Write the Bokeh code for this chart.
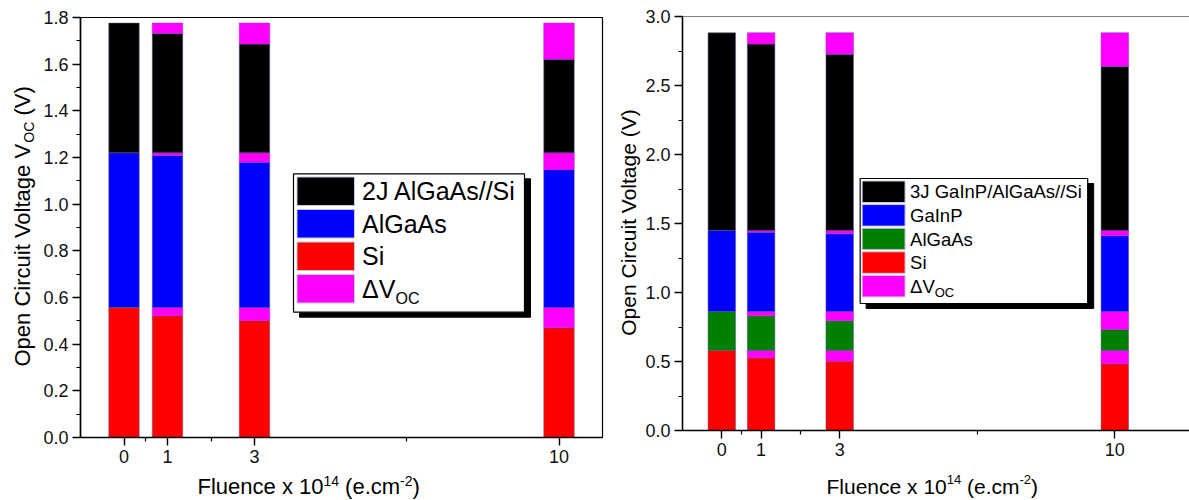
import math
from bokeh.plotting import figure
from bokeh.models import FixedTicker, NumeralTickFormatter, Span, Range1d
from bokeh.core.properties import value
from bokeh.layouts import row, column
from bokeh.embed import file_html
from bokeh.resources import INLINE

FONT = "Liberation Sans"

# ---------------- data ----------------
fluence = [0, 1, 3, 10]
fluence_labels = ["0", "1", "3", "10"]

# 2J AlGaAs//Si  (segment heights, bottom -> top)
si_2j = [0.557, 0.522, 0.501, 0.470]
algaas_2j = [0.663, 0.652, 0.623, 0.591]
tandem_2j = [0.556, 0.511, 0.466, 0.401]

# 3J GaInP/AlGaAs//Si (segment heights, bottom -> top)
si_3j = [0.580, 0.527, 0.502, 0.483]
algaas_3j = [0.282, 0.251, 0.215, 0.152]
gainp_3j = [0.587, 0.575, 0.563, 0.549]
triple_3j = [1.433, 1.351, 1.278, 1.189]

labels_2j = ["2J AlGaAs//Si", "AlGaAs", "Si", "ΔV"]
labels_3j = ["3J GaInP/AlGaAs//Si", "GaInP", "AlGaAs", "Si", "ΔV"]

yticks_2j = [0.0, 0.2, 0.4, 0.6, 0.8, 1.0, 1.2, 1.4, 1.6, 1.8]
yticks_3j = [0.0, 0.5, 1.0, 1.5, 2.0, 2.5, 3.0]

BLACK, BLUE, RED, MAGENTA, GREEN = "#000000", "#0000FF", "#FF0000", "#FF00FF", "#008000"
EDGE = "#55558a"
DEDGE = "#9b30d0"
BAR_W = 0.7
TICK_FONT = "18px"
SHIFT = 0.35   # baseline correction (fraction of font size)


def stack(p, layers, colors):
    """Stacked segments; the remainder of each layer's slot (vs fluence 0) is ΔVoc."""
    base = 0.0
    for vals, col in zip(layers, colors):
        slot = vals[0]
        tops = [base + v for v in vals]
        p.vbar(x=fluence, bottom=base, top=tops, width=BAR_W,
               fill_color=col, line_color=EDGE, line_width=0.7, line_alpha=0.7)
        idx = [i for i, v in enumerate(vals) if slot - v > 1e-9]
        p.vbar(x=[fluence[i] for i in idx], bottom=[tops[i] for i in idx],
               top=[base + slot] * len(idx), width=BAR_W,
               fill_color=MAGENTA, line_color=DEDGE, line_width=0.7, line_alpha=0.8)
        base += slot


def style_axes(p, yticks):
    xa, ya = p.xaxis[0], p.yaxis[0]
    minors = [(fluence[i] + fluence[i + 1]) / 2 for i in range(len(fluence) - 1)]
    xa.ticker = FixedTicker(ticks=fluence, minor_ticks=minors)
    xa.major_label_overrides = {f: l for f, l in zip(fluence, fluence_labels)}
    step = yticks[1] - yticks[0]
    ymin = [yticks[0] + step / 2 + k * step for k in range(len(yticks) - 1)]
    ya.ticker = FixedTicker(ticks=yticks, minor_ticks=ymin)
    ya.formatter = NumeralTickFormatter(format="0.0")
    for ax in (xa, ya):
        ax.axis_label = None
        ax.axis_line_width = 1.6
        ax.axis_line_color = "black"
        ax.major_tick_line_width = 1.4
        ax.minor_tick_line_width = 1.2
        ax.major_tick_line_color = "black"
        ax.minor_tick_line_color = "black"
        ax.major_tick_in = 0
        ax.minor_tick_in = 0
        ax.major_tick_out = 8
        ax.minor_tick_out = 4
        ax.major_label_text_font = FONT
        ax.major_label_text_font_size = TICK_FONT
        ax.major_label_text_color = "#111111"
    ya.major_label_standoff = 4
    xa.major_label_standoff = 4
    p.xgrid.visible = False
    p.ygrid.visible = False


def put_text(f, pieces, angle=0.0, align="left"):
    # pieces: (text, x, y, size) in the figure's data units (title figs: pixels)
    for t, x, y, s in pieces:
        if angle:
            x = x - SHIFT * s
        else:
            y = y + SHIFT * s
        f.text(x=[x], y=[y], text=[t], angle=angle, text_font=value(FONT),
               text_font_size=value(f"{s}px"), text_align=align,
               text_baseline="alphabetic", text_color="black")


def put_text_px(p, fx, fy, t, px, py, s):
    """Text whose baseline is given in page pixels, inside a plot frame."""
    p.text(x=[fx(px)], y=[fy(py - SHIFT * s)], text=[t], text_font=value(FONT),
           text_font_size=value(f"{s}px"), text_align="left",
           text_baseline="alphabetic", text_color="black")


def draw_legend(p, fx, fy, box, rows, sw_x, text_x, font, labels, colors, oc):
    """Framed legend with drop shadow; positions are given in page pixels."""
    l, t, r, b = box
    p.quad(left=[fx(l + 6)], right=[fx(r + 6)], top=[fy(t + 5)], bottom=[fy(b + 5)],
           fill_color="black", line_color="black")
    p.quad(left=[fx(l)], right=[fx(r)], top=[fy(t)], bottom=[fy(b)],
           fill_color="white", line_color="black", line_width=1.2)
    top0, pitch, h = rows
    tops = [top0 + k * pitch for k in range(len(labels))]
    p.quad(left=[fx(sw_x[0])] * len(labels), right=[fx(sw_x[1])] * len(labels),
           top=[fy(tp) for tp in tops], bottom=[fy(tp + h) for tp in tops],
           fill_color=colors, line_color="#c8c8e0", line_width=1)
    cap = 0.716 * font
    for lab, tp in zip(labels, tops):
        put_text_px(p, fx, fy, lab, text_x, tp + h / 2 + cap / 2, font)
    oc_x, oc_base, oc_size = oc
    put_text_px(p, fx, fy, "OC", oc_x, oc_base, oc_size)


def title_fig(w, h):
    f = figure(width=w, height=h, x_range=Range1d(0, w), y_range=Range1d(0, h),
               output_backend="svg", toolbar_location=None, title=None,
               x_axis_type=None, y_axis_type=None, min_border=0,
               min_border_left=0, min_border_right=0, min_border_top=0,
               min_border_bottom=0, frame_align=False)
    f.outline_line_color = None
    f.background_fill_color = "white"
    f.border_fill_color = "white"
    return f


# ---------------- left figure (2J) ----------------
p1 = figure(width=572, height=471, x_range=(-1, 11), y_range=(0, 1.8),
            output_backend="svg", toolbar_location=None, title=None,
            min_border_left=40, min_border_right=10, min_border_top=17,
            min_border_bottom=34, frame_align=False)
p1.outline_line_color = "black"
p1.outline_line_width = 1.2
p1.background_fill_color = "white"
p1.border_fill_color = "white"

stack(p1, [si_2j, algaas_2j, tandem_2j], [RED, BLUE, BLACK])
style_axes(p1, yticks_2j)


def fx1(px):
    return -1 + (px - 80) * 12 / 522


def fy1(py):
    return (437 - py) * 1.8 / 420


draw_legend(p1, fx1, fy1, (293, 173.3, 524, 311.7), (176.5, 32.5, 28.5),
            (296.5, 354), 361.5, 25, labels_2j, [BLACK, BLUE, RED, MAGENTA],
            (395, 303.5, 16))

yt1 = title_fig(40, 500)
put_text(yt1, [("Open Circuit Voltage V", 29.3, 134, 22),
               ("OC", 33.3, 357.8, 14),
               ("(V)", 29.3, 384.9, 22)], angle=math.pi / 2)

xt1 = title_fig(572, 29)
put_text(xt1, [("Fluence x 10", 157, 6, 22),
               ("14", 283.0, 15, 14),
               ("(e.cm", 304.6, 6, 22),
               ("-2", 359.6, 15, 14),
               (")", 372.1, 6, 22)])

# ---------------- right figure (3J) ----------------
p2 = figure(width=547, height=466, x_range=(-1, 11.9), y_range=(0, 3.0),
            output_backend="svg", toolbar_location=None, title=None,
            min_border_left=39, min_border_right=0, min_border_top=16,
            min_border_bottom=36, frame_align=False)
p2.outline_line_color = None
p2.background_fill_color = "white"
p2.border_fill_color = "white"
p2.add_layout(Span(location=3.0, dimension="width", line_color="black", line_width=1.2))

stack(p2, [si_3j, algaas_3j, gainp_3j, triple_3j], [RED, GREEN, BLUE, BLACK])
style_axes(p2, yticks_3j)


def fx2(px):
    return -1 + (px - 681) * 12.9 / 508


def fy2(py):
    return (430 - py) * 3.0 / 414


draw_legend(p2, fx2, fy2, (859, 178, 1087, 303), (180.5, 23.6, 21.5),
            (861, 904), 909, 18.5, labels_3j, [BLACK, BLUE, GREEN, RED, MAGENTA],
            (933.7, 296.7, 13))

yt2 = title_fig(30, 500)
put_text(yt2, [("Open Circuit Voltage (V)", 23, 278, 21)], angle=math.pi / 2, align="center")

xt2 = title_fig(547, 34)
put_text(xt2, [("Fluence x 10", 184, 7, 21),
               ("14", 304.2, 16, 13),
               ("(e.cm", 324.5, 7, 21),
               ("-2", 377.0, 16, 13),
               (")", 388.6, 7, 21)])

layout = row(yt1, column(p1, xt1), yt2, column(p2, xt2))
open("out.html", "w").write(file_html(layout, INLINE))
